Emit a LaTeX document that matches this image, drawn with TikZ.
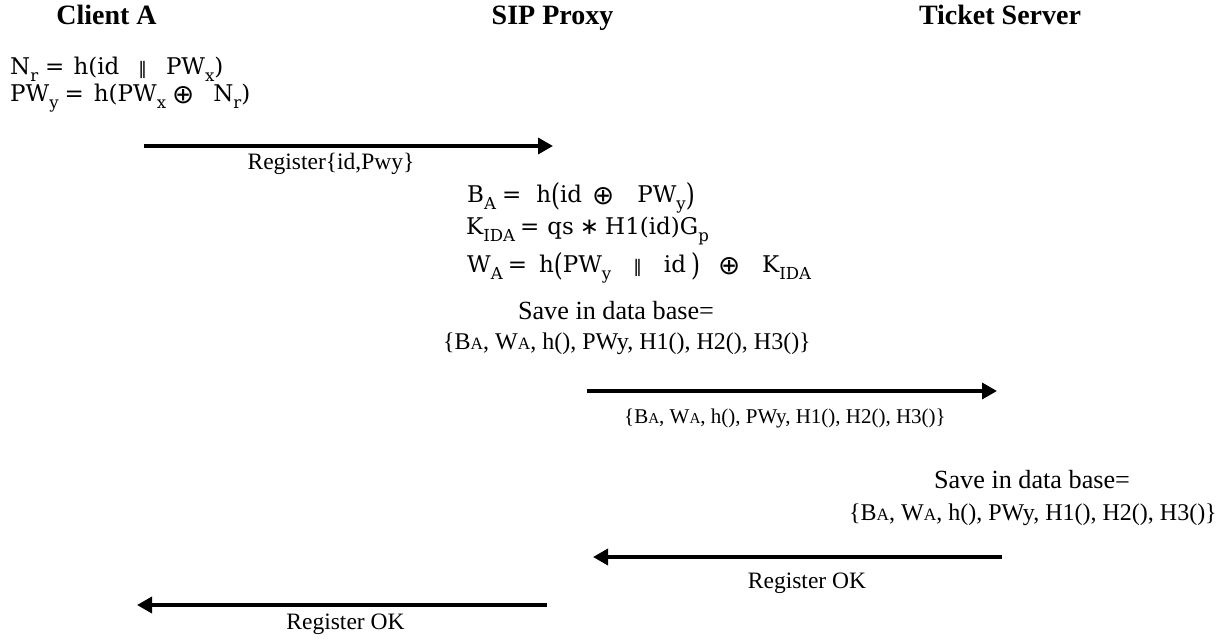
\documentclass[tikz,border=0pt]{standalone}
\usepackage{fontspec}
\usepackage{graphicx}
\setmainfont{Liberation Serif}
\newfontfamily\mf{DejaVu Serif}
\newfontfamily\symf{DejaVu Sans}
\usetikzlibrary{arrows.meta}
\newcommand\sbs[1]{\raisebox{-0.28em}{\scalebox{0.72}{#1}}}
\newcommand\sa{\scalebox{0.72}{A}}
\newcommand\tpar[1]{\raisebox{-0.12em}{\scalebox{1}[1.32]{#1}}}
\newcommand\dbar{{\symf\scalebox{0.75}{‖}}}
\newcommand\xor{\raisebox{-0.06em}{\scalebox{1.15}{\symf ⊕}}}
\newcommand\astop{{\symf ∗}}
\newcommand\gap[1]{\hspace{#1bp}}
\tikzset{
  title/.style={inner sep=0pt, anchor=base, font=\fontsize{28bp}{32bp}\selectfont\bfseries},
  formula/.style={inner sep=0pt, anchor=base west, font=\fontsize{23bp}{27bp}\mf},
  lbl/.style={inner sep=0pt, anchor=base, font=\fontsize{23.5bp}{28bp}\selectfont},
  savetext/.style={inner sep=0pt, anchor=base, font=\fontsize{26.2bp}{30bp}\selectfont},
  dbtext/.style={inner sep=0pt, anchor=base, font=\fontsize{24bp}{28bp}\selectfont},
  smalllbl/.style={inner sep=0pt, anchor=base, font=\fontsize{21bp}{25bp}\selectfont},
  msg/.style={line width=3.5bp, -{Triangle[length=15bp,width=16bp]}}
}
\begin{document}
\begin{tikzpicture}[x=1bp,y=-1bp]
\useasboundingbox (0,0) rectangle (1228,641);
% titles
\node[title] (ca) at (106.5,25) {Client A};
\node[title] (sip) at (552.5,25) {SIP Proxy};
\node[title] (ts) at (1000,25) {Ticket Server};
% client formulas
\node[formula] (f1) at (10,75) {N\sbs{r}\gap{7}=\gap{9}h(id\gap{19}\dbar\gap{19}PW\sbs{x})};
\node[formula] (f2) at (10,102) {PW\sbs{y}\gap{6}=\gap{10}h(PW\sbs{x}\gap{6}\xor\gap{19}N\sbs{r})};
% arrow 1
\coordinate (a1s) at (144,146);
\coordinate (a1e) at (553,146);
\draw[msg] (a1s) -- (a1e);
\node[lbl] (l1) at (331,170) {Register\{id,Pwy\}};
% proxy formulas
\node[formula] (f3) at (467,203) {B\sbs{A}\gap{6}=\gap{15}h\tpar{(}id\gap{10}\xor\gap{23}PW\sbs{y}\tpar{)}};
\node[formula] (f4) at (466,235) {K\sbs{IDA}\gap{5}=\gap{8}qs\gap{6}\astop\gap{6}H1(id)G\sbs{p}};
\node[formula] (f5) at (467,273) {W\sbs{A}\gap{5}=\gap{12}h\tpar{(}PW\sbs{y}\gap{22}\dbar\gap{22}id\gap{5}\tpar{)}\gap{18}\xor\gap{22}K\sbs{IDA}};
\node[savetext] (s1) at (616,320) {Save in data base=};
\node[dbtext] (d1) at (627,350) {\{B\sa, W\sa, h(), PWy, H1(), H2(), H3()\}};
% arrow 2
\coordinate (a2s) at (587,391);
\coordinate (a2e) at (997,391);
\draw[msg] (a2s) -- (a2e);
\node[smalllbl] (l2) at (785,423) {\{B\sa, W\sa, h(), PWy, H1(), H2(), H3()\}};
% ticket server
\node[savetext] (s2) at (1032,488) {Save in data base=};
\node[dbtext] (d2) at (1033,520) {\{B\sa, W\sa, h(), PWy, H1(), H2(), H3()\}};
% arrow 3
\coordinate (a3s) at (1002,557);
\coordinate (a3e) at (593,557);
\draw[msg] (a3s) -- (a3e);
\node[lbl] (l3) at (807,588) {Register OK};
% arrow 4
\coordinate (a4s) at (547,605);
\coordinate (a4e) at (137,605);
\draw[msg] (a4s) -- (a4e);
\node[lbl] (l4) at (345.5,629) {Register OK};
\end{tikzpicture}
\end{document}
